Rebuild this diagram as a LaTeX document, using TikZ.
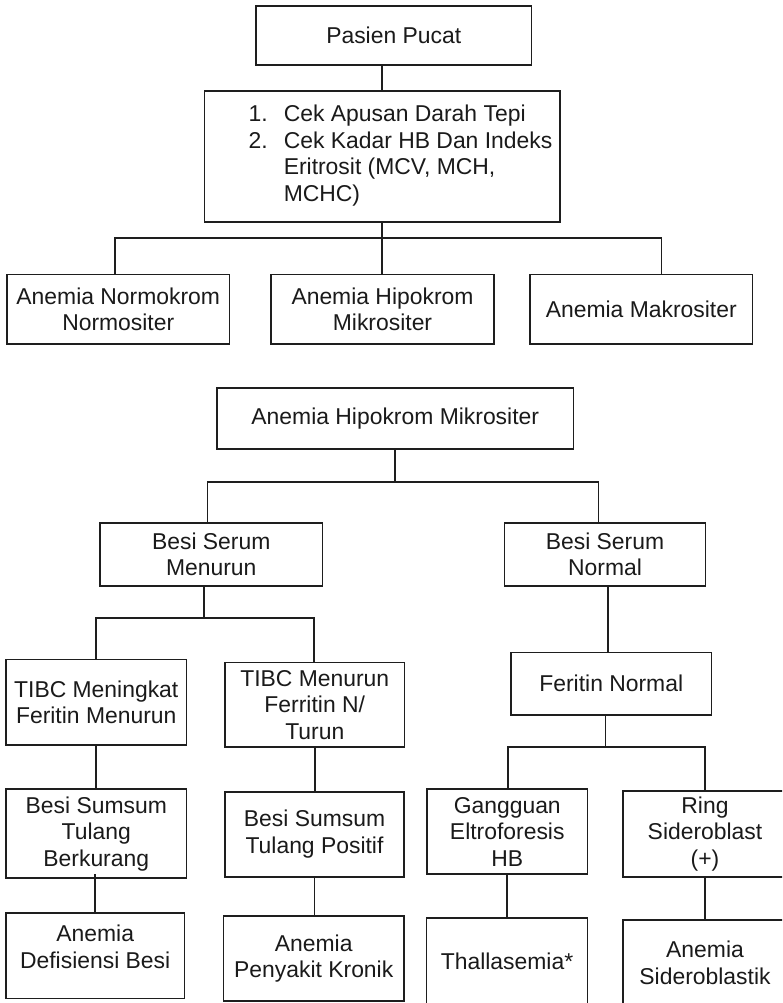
\documentclass[tikz,border=0pt]{standalone}
\usepackage{fontspec}
\setmainfont{Liberation Sans}
\definecolor{linec}{HTML}{1E1E1E}
\definecolor{txtc}{HTML}{1A1A1A}
\begin{document}
\begin{tikzpicture}[x=1pt,y=-1pt,
  box/.style={draw=linec, line width=1.7pt, inner sep=2pt, align=center,
    text=txtc, font=\fontsize{22.9}{26.5}\selectfont, anchor=center},
  lbl/.style={align=center, text=txtc, font=\fontsize{22.9}{26.5}\selectfont},
  link/.style={draw=linec, line width=1.7pt}]
\useasboundingbox (0,0) rectangle (782,1003);
\clip (0,0) rectangle (782,1003);

% ---------- first tree ----------
\node[box, minimum width=275.5, minimum height=59] (pasien) at (393.75,35.5) {Pasien Pucat};
\node[box, minimum width=355.5, minimum height=131] (cek) at (382.25,156.2)
  {\hspace*{36.5pt}\begin{tabular}{@{}l@{\hspace{16pt}}l@{}}
   1. & Cek Apusan Darah Tepi\\
   2. & Cek Kadar HB Dan Indeks\\
      & Eritrosit (MCV, MCH,\\
      & MCHC)
   \end{tabular}};
\node[box, minimum width=222.5, minimum height=69.7] (nA) at (118.25,309.2) {Anemia Normokrom\\Normositer};
\node[box, minimum width=223, minimum height=69.7] (nB) at (382.5,309.2) {Anemia Hipokrom\\Mikrositer};
\node[box, minimum width=222.5, minimum height=69.7] (nC) at (641.25,309.2) {Anemia Makrositer};

\coordinate (bA) at (115,237.7);
\coordinate (bC) at (661.5,237.7);
\draw[link] (cek.north |- pasien.south) -- (cek.north);
\draw[link] (cek.south) -- (cek.south |- nB.north);
\draw[link] (bA |- nA.north) -- (bA) -- (bC) -- (bC |- nC.north);

% ---------- second tree ----------
\node[box, minimum width=356.5, minimum height=61.6] (hipo) at (395.25,418.5) {Anemia Hipokrom Mikrositer};
\node[box, minimum width=222.5, minimum height=63] (menurun) at (211.25,554.5) {Besi Serum\\Menurun};
\node[box, minimum width=201, minimum height=63] (normal) at (605,554.5) {Besi Serum\\Normal};

\coordinate (b2L) at (207.5,481.7);
\coordinate (b2R) at (598.5,481.7);
\draw[link] (hipo.south) -- (hipo.south |- b2L);
\draw[link] (b2L |- menurun.north) -- (b2L) -- (b2R) -- (b2R |- normal.north);

\node[box, minimum width=180.5, minimum height=85.7] (tibc1) at (96.25,702.2) {TIBC Meningkat\\Feritin Menurun};
\node[box, minimum width=179.5, minimum height=84.8] (tibc2) at (314.75,704.9) {TIBC Menurun\\Ferritin N/\\Turun};
\node[box, minimum width=200.5, minimum height=62.7] (feritin) at (611.25,683.7) {Feritin Normal};

\coordinate (b3M) at (204,617.7);
\coordinate (b3L) at (96,617.7);
\coordinate (b3R) at (314,617.7);
\draw[link] (b3M |- menurun.south) -- (b3M);
\draw[link] (b3L |- tibc1.north) -- (b3L) -- (b3R) -- (b3R |- tibc2.north);

\coordinate (v4) at (608,600);
\draw[link] (v4 |- normal.south) -- (v4 |- feritin.north);

\node[box, minimum width=180.5, minimum height=89] (sumsum1) at (96.25,833.8) {Besi Sumsum\\Tulang\\Berkurang};
\node[box, minimum width=179, minimum height=85] (sumsum2) at (314.5,834.2) {Besi Sumsum\\Tulang Positif};
\node[box, minimum width=160.5, minimum height=85] (gangguan) at (507.25,831.8) {Gangguan\\Eltroforesis\\HB};
\node[box, minimum width=164, minimum height=86] (ring) at (705,833.7) {Ring\\Sideroblast\\(+)};

\coordinate (b5M) at (605.5,747.3);
\coordinate (b5L) at (508,747.3);
\coordinate (b5R) at (705,747.3);
\draw[link] (b5M |- feritin.south) -- (b5M);
\draw[link] (b5L |- gangguan.north) -- (b5L) -- (b5R) -- (b5R |- ring.north);

\draw[link] (tibc1.south) -- (tibc1.south |- sumsum1.north);
\draw[link] (tibc2.south) -- (tibc2.south |- sumsum2.north);

\node[box, minimum width=178.3, minimum height=85.2,
  label={[lbl, name=defis-text, yshift=9pt]center:{Anemia\\Defisiensi Besi}}] (defis) at (95.2,955.9) {};
\node[box, minimum width=180.5, minimum height=84.7] (penyakit) at (313.75,958.4) {Anemia\\Penyakit Kronik};
\node[box, minimum width=161, minimum height=85.8] (thal) at (507,961.2) {Thallasemia*};
\node[box, minimum width=164, minimum height=86] (sidero) at (705,963) {Anemia\\Sideroblastik};

\draw[link] ([yshift=5pt]sumsum1.south -| defis.north) -- (defis.north);
\draw[link] (sumsum2.south) -- (sumsum2.south |- penyakit.north);
\draw[link] (gangguan.south) -- (gangguan.south |- thal.north);
\draw[link] (ring.south) -- (ring.south |- sidero.north);
\end{tikzpicture}
\end{document}
